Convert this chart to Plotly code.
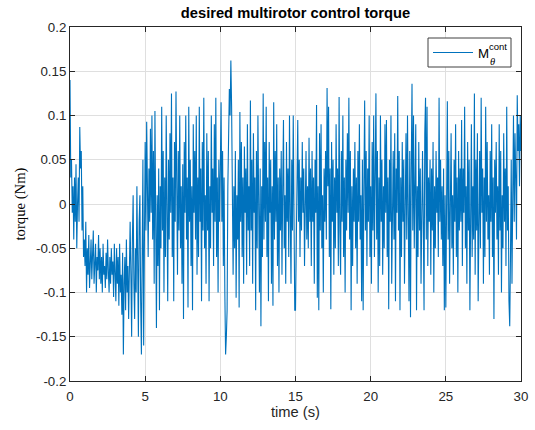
import numpy as np
import plotly.graph_objects as go

# sample interval of the logged signal (s)
dt = 0.05

# desired torque M_theta^cont, in milli-Nm, 20 samples per second
torque_00_05 = [
    140, 30, 50, -10, 20, -40, 30, -20, 45, -50, 0, 30, -20, 87, 40, 60, -30, 20, -60, -40,
    -70, -20, -100, -50, -80, -35, -95, -60, -40, -85, -55, -30, -90, -65, -45, -100, -60, -75, -35, -85,
    -50, -90, -60, -100, -45, -80, -70, -95, -55, -85, -40, -75, -100, -60, -90, -50, -80, -65, -105, -45,
    -70, -110, -50, -90, -60, -115, -45, -100, -80, -125, -55, -170, -90, -60, -120, -40, -100, -70, -130, -60,
    -20, -80, -150, -40, 10, -90, -130, -50, -100, 20, -70, -150, -20, 10, -110, -170, -60, 50, -160, 30,
]
torque_05_10 = [
    70, -30, 93, 20, -60, 40, -20, 85, -10, 100, -40, 60, -90, 105, -20, -140, 10, -70, 40, -120,
    20, -50, 110, -30, 60, -100, 30, -60, 100, -20, -110, 50, -40, 80, -10, 125, -60, 30, -110, 70,
    -20, 127, 10, -80, 60, -30, 100, -50, 20, -90, 45, -130, 70, -10, 100, -40, 30, -117, 110, -20,
    50, -70, 20, -120, 90, -10, 60, -40, 100, -80, 30, -60, 110, -20, 40, -110, 70, -30, 120, -50,
    10, -90, 80, -30, 60, -110, 20, -50, 100, -10, 40, -70, 90, -20, 120, -60, 30, -100, 50, -20,
]
torque_10_15 = [
    40, 115, -20, 60, -70, 30, -100, -170, -150, -120, 20, 80, 130, 100, 162, 110, 40, -80, 20, -50,
    60, -106, 10, -40, 50, -117, 104, -20, 70, -60, 30, -90, 65, -10, 40, -80, 90, -30, 20, -70,
    117, -30, 50, -90, 80, -10, 30, -120, 60, -50, 100, -20, -100, 40, -138, 20, -60, 125, -40, 70,
    -20, 110, -60, 30, -110, 70, -10, 50, -90, 20, -115, 115, -40, 60, -20, 90, -70, 30, -100, 40,
    -30, 60, -80, 20, 95, -50, 10, -90, 70, -20, 40, -60, 100, -10, -90, 50, -30, 100, -60, -120,
]
torque_15_20 = [
    -120, -40, 20, 95, -20, 50, -60, 30, -30, 70, -10, 40, -70, 10, 60, -40, 20, -50, 75, -20,
    40, -70, 60, -20, 30, -90, 50, -10, 112, -106, 20, -120, 80, -30, 90, -50, 10, -100, 40, -20,
    60, -40, 131, 20, 110, -60, 40, -119, 70, -20, 50, -80, 30, -50, 90, -10, 40, -70, 121, -30,
    -80, 60, -20, 100, -60, 30, -100, 50, -30, 80, -10, 120, -40, 60, -120, 20, -70, 40, -20, 70,
    -50, 30, -90, 60, -20, 90, -40, 10, -110, 50, -120, 20, 117, -30, 60, -70, 40, -20, 100, -60,
]
torque_20_25 = [
    20, -90, 70, -30, 100, -60, 10, 125, -40, 60, -100, 30, -70, 100, -20, 50, -80, 20, -50, 90,
    -10, 95, -60, 30, -119, 50, -20, 100, -90, 10, 60, -40, 80, -110, 40, -10, 122, -30, 60, -120,
    30, -60, 70, -20, 50, -90, 20, 80, -40, 100, -10, -110, 60, -128, 40, 136, -30, 100, -50, 30,
    90, -120, 20, -60, 70, -30, 40, -90, 10, 60, -20, -120, 80, 120, -40, 110, -70, 30, -20, 50,
    -80, 40, -30, 70, -100, 20, -50, 60, -10, 30, -60, 120, -20, 50, -40, 20, -70, 40, -120, 10,
]
torque_25_30 = [
    -117, 30, 116, -40, 60, -90, 20, 80, -50, 10, -80, 50, -20, 90, -60, 30, -100, 60, -30, 40,
    -20, 95, -70, 40, -10, 110, -50, 20, -90, 70, -30, 50, -120, 30, 90, -60, 20, -40, 125, -80,
    50, -30, 80, -110, 20, 60, -50, 120, -10, 40, -90, 30, -60, 110, -20, 70, -40, 10, -80, 60,
    -20, 90, -60, 30, -130, 50, -10, 70, -40, 20, -80, 90, -30, 60, -100, 10, -50, 80, -20, 40,
    -70, 110, -30, 20, -110, -138, -60, 50, -90, 40, 100, -20, 80, 30, -40, 123, 60, 90, 20, 100,
    60,
]

x_ticks = [0, 5, 10, 15, 20, 25, 30]
y_ticks = [-0.2, -0.15, -0.1, -0.05, 0, 0.05, 0.1, 0.15, 0.2]
y_tick_labels = ["-0.2", "-0.15", "-0.1", "-0.05", "0", "0.05", "0.1", "0.15", "0.2"]

torque = np.array(torque_00_05 + torque_05_10 + torque_10_15 +
                  torque_15_20 + torque_20_25 + torque_25_30) / 1000.0
t = np.arange(len(torque)) * dt

LINE_COLOR = "#0072BD"
SANS = "Liberation Sans, Arial, sans-serif"
SERIF = "Liberation Serif, DejaVu Serif, serif"

fig = go.Figure()
fig.add_trace(go.Scatter(
    x=t, y=torque, mode="lines",
    line=dict(color=LINE_COLOR, width=1.1),
    name="M<sub>θ</sub><sup>cont</sup>", showlegend=False,
))

axis_common = dict(
    showline=True, linecolor="#262626", linewidth=1, mirror="ticks",
    ticks="inside", ticklen=5, tickcolor="#262626", tickwidth=1,
    showgrid=True, gridcolor="#dfdfdf", gridwidth=1, zeroline=False,
    tickfont=dict(family=SANS, size=13.3, color="#262626"),
)

fig.update_xaxes(
    range=[0, 30], tickvals=x_ticks, ticktext=[str(v) for v in x_ticks],
    ticklabelstandoff=3,
    title=dict(text="time (s)", font=dict(family=SANS, size=14.7, color="#262626"), standoff=2),
    **axis_common,
)
fig.update_yaxes(
    range=[-0.2, 0.2], tickvals=y_ticks, ticktext=y_tick_labels,
    title=dict(text="torque (Nm)", font=dict(family=SERIF, size=14.7, color="#000000"),
               standoff=6),
    **axis_common,
)

# plot-area geometry (pixels) used to place the hand-drawn legend box
L, R, T, B = 70, 521, 27, 381
def fx(px):
    return (px - L) / (R - L)
def fy(py):
    return (B - py) / (B - T)

fig.update_layout(
    width=535, height=430,
    margin=dict(l=L, r=535 - R, t=T, b=430 - B, autoexpand=False),
    paper_bgcolor="white", plot_bgcolor="white",
    title=dict(text="<b>desired multirotor control torque</b>",
               font=dict(family=SANS, size=14.7, color="#000000"),
               x=0.5, xref="paper", xanchor="center",
               y=1 - 13 / 430, yref="container", yanchor="middle"),
    showlegend=False,
)

# legend box
fig.add_shape(type="rect", xref="paper", yref="paper",
              x0=fx(428), x1=fx(511), y0=fy(67), y1=fy(38),
              line=dict(color="#404040", width=1), fillcolor="white", layer="above")
fig.add_shape(type="line", xref="paper", yref="paper",
              x0=fx(433), x1=fx(473), y0=fy(52.5), y1=fy(52.5),
              line=dict(color=LINE_COLOR, width=1.1), layer="above")
fig.add_annotation(text="M", xref="paper", yref="paper", x=fx(476), y=fy(53),
                   xanchor="left", yanchor="middle", showarrow=False,
                   font=dict(family=SANS, size=13.3, color="#000000"))
fig.add_annotation(text="cont", xref="paper", yref="paper", x=fx(486.5), y=fy(46),
                   xanchor="left", yanchor="middle", showarrow=False,
                   font=dict(family=SANS, size=9.5, color="#000000"))
fig.add_annotation(text="<i>θ</i>", xref="paper", yref="paper", x=fx(487.5), y=fy(61),
                   xanchor="left", yanchor="middle", showarrow=False,
                   font=dict(family=SERIF, size=10.5, color="#000000"))

fig.write_html("out.html")
